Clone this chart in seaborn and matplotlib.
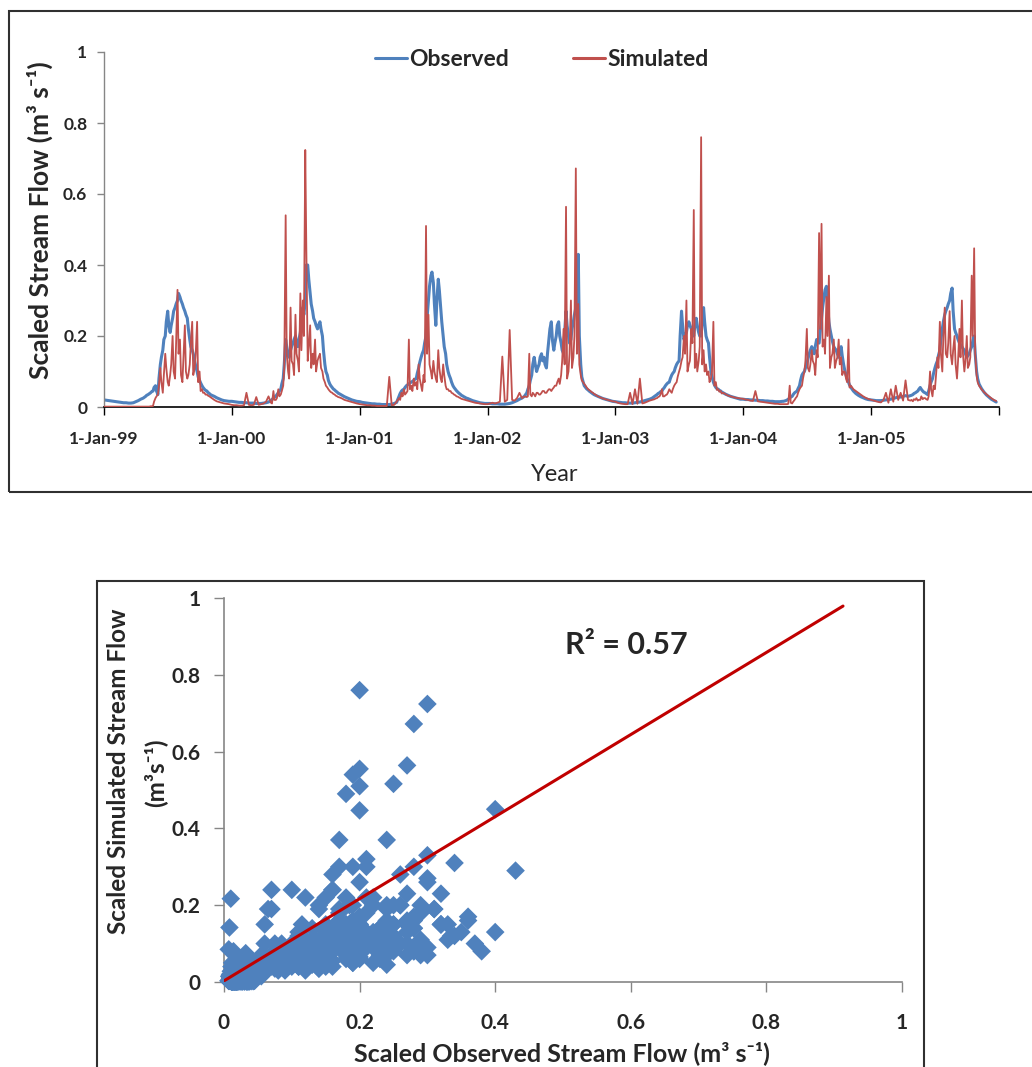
import numpy as np
import pandas as pd
import matplotlib
matplotlib.use("Agg")
import matplotlib.pyplot as plt
import seaborn as sns
from matplotlib.patches import Rectangle

sns.set_theme(style="white")
plt.rcParams['font.family'] = ['Lato', 'DejaVu Sans']

# ---------------- data ----------------
YEARS = [1999, 2000, 2001, 2002, 2003, 2004, 2005]

# weekly values (day 0, 7, 14, ... of each year)
obs_1999 = [0.020,0.019,0.018,0.017,0.016,0.015,0.014,0.013,0.012,0.012,
            0.011,0.011,0.012,0.015,0.018,0.022,0.025,0.030,0.035,0.040,
            0.045,0.060,0.035,0.120,0.160,0.200,0.270,0.210,0.250,0.280,
            0.300,0.310,0.290,0.270,0.250,0.190,0.160,0.130,0.100,0.075,
            0.060,0.050,0.045,0.038,0.033,0.030,0.026,0.023,0.020,0.018,
            0.017,0.016]
sim_1999 = [0.001,0.001,0.001,0.001,0.001,0.001,0.001,0.001,0.001,0.001,
            0.001,0.001,0.001,0.001,0.001,0.001,0.001,0.001,0.001,0.002,
            0.003,0.025,0.035,0.110,0.040,0.150,0.070,0.090,0.200,0.080,
            0.330,0.190,0.070,0.230,0.080,0.120,0.240,0.110,0.240,0.100,
            0.050,0.040,0.035,0.030,0.025,0.020,0.016,0.014,0.012,0.010,
            0.009,0.008]

obs_2000 = [0.016,0.015,0.014,0.013,0.013,0.012,0.012,0.011,0.011,0.011,
            0.010,0.010,0.010,0.011,0.012,0.014,0.018,0.025,0.030,0.040,
            0.050,0.080,0.190,0.150,0.160,0.180,0.200,0.170,0.210,0.280,
            0.300,0.400,0.320,0.270,0.240,0.220,0.240,0.200,0.120,0.090,
            0.065,0.055,0.048,0.042,0.037,0.033,0.029,0.026,0.023,0.020,
            0.018,0.016]
sim_2000 = [0.006,0.005,0.005,0.004,0.004,0.005,0.040,0.006,0.005,0.006,
            0.028,0.006,0.008,0.010,0.015,0.030,0.012,0.045,0.020,0.050,
            0.035,0.060,0.540,0.100,0.280,0.120,0.260,0.130,0.320,0.300,
            0.724,0.130,0.230,0.150,0.190,0.130,0.150,0.100,0.070,0.055,
            0.045,0.040,0.035,0.030,0.027,0.024,0.020,0.018,0.016,0.014,
            0.012,0.010]

obs_2001 = [0.015,0.013,0.012,0.011,0.010,0.009,0.009,0.008,0.008,0.007,
            0.007,0.007,0.007,0.008,0.010,0.013,0.030,0.045,0.050,0.060,
            0.065,0.070,0.075,0.080,0.110,0.140,0.160,0.200,0.300,0.370,
            0.350,0.230,0.360,0.280,0.200,0.150,0.100,0.080,0.060,0.050,
            0.042,0.036,0.031,0.027,0.024,0.021,0.018,0.016,0.014,0.012,
            0.011,0.010]
sim_2001 = [0.008,0.007,0.006,0.005,0.005,0.004,0.004,0.003,0.003,0.003,
            0.003,0.003,0.085,0.005,0.006,0.015,0.025,0.040,0.050,0.040,
            0.190,0.060,0.080,0.070,0.120,0.060,0.090,0.510,0.260,0.100,
            0.130,0.080,0.160,0.080,0.120,0.060,0.050,0.045,0.038,0.033,
            0.029,0.025,0.022,0.020,0.018,0.016,0.014,0.012,0.011,0.010,
            0.009,0.008]

obs_2002 = [0.010,0.010,0.009,0.009,0.009,0.008,0.008,0.008,0.009,0.010,
            0.012,0.015,0.018,0.022,0.025,0.030,0.040,0.060,0.090,0.140,
            0.100,0.120,0.150,0.140,0.110,0.190,0.240,0.160,0.200,0.240,
            0.180,0.150,0.270,0.200,0.190,0.240,0.280,0.430,0.120,0.070,
            0.055,0.048,0.042,0.037,0.033,0.030,0.027,0.024,0.022,0.020,
            0.018,0.016]
sim_2002 = [0.008,0.010,0.012,0.010,0.012,0.015,0.142,0.015,0.020,0.217,
            0.020,0.018,0.025,0.040,0.025,0.030,0.028,0.150,0.030,0.035,
            0.040,0.035,0.040,0.045,0.040,0.050,0.045,0.055,0.060,0.080,
            0.090,0.220,0.564,0.100,0.300,0.140,0.672,0.290,0.090,0.070,
            0.060,0.050,0.045,0.040,0.035,0.030,0.027,0.024,0.022,0.020,
            0.018,0.016]

obs_2003 = [0.015,0.014,0.013,0.012,0.012,0.011,0.011,0.011,0.012,0.013,
            0.014,0.016,0.018,0.020,0.022,0.025,0.030,0.035,0.040,0.045,
            0.055,0.065,0.070,0.090,0.100,0.120,0.130,0.270,0.190,0.210,
            0.240,0.220,0.200,0.250,0.210,0.200,0.280,0.200,0.180,0.100,
            0.070,0.055,0.050,0.045,0.040,0.036,0.033,0.030,0.028,0.026,
            0.024,0.022]
sim_2003 = [0.015,0.012,0.010,0.009,0.008,0.008,0.040,0.008,0.050,0.009,
            0.080,0.010,0.012,0.015,0.018,0.020,0.022,0.025,0.030,0.050,
            0.030,0.035,0.050,0.040,0.060,0.070,0.100,0.130,0.200,0.300,
            0.120,0.220,0.555,0.150,0.130,0.760,0.160,0.120,0.100,0.080,
            0.240,0.070,0.050,0.045,0.040,0.036,0.032,0.030,0.028,0.026,
            0.025,0.024]

obs_2004 = [0.022,0.021,0.021,0.020,0.020,0.019,0.019,0.018,0.018,0.017,
            0.017,0.016,0.016,0.015,0.015,0.015,0.016,0.017,0.020,0.025,
            0.030,0.040,0.045,0.060,0.090,0.100,0.120,0.150,0.170,0.150,
            0.190,0.180,0.250,0.310,0.340,0.240,0.200,0.170,0.160,0.140,
            0.170,0.120,0.090,0.070,0.055,0.045,0.038,0.033,0.029,0.026,
            0.023,0.021]
sim_2004 = [0.023,0.021,0.020,0.018,0.017,0.045,0.016,0.015,0.014,0.013,
            0.012,0.011,0.010,0.009,0.009,0.008,0.008,0.008,0.008,0.060,
            0.010,0.020,0.030,0.050,0.060,0.100,0.220,0.100,0.160,0.120,
            0.160,0.490,0.516,0.190,0.310,0.370,0.140,0.190,0.130,0.190,
            0.140,0.100,0.080,0.190,0.060,0.050,0.045,0.040,0.035,0.030,
            0.026,0.023]

obs_2005 = [0.020,0.019,0.018,0.018,0.018,0.019,0.020,0.021,0.022,0.024,
            0.026,0.028,0.028,0.030,0.032,0.030,0.032,0.035,0.040,0.045,
            0.055,0.045,0.040,0.035,0.060,0.080,0.110,0.130,0.160,0.220,
            0.260,0.280,0.300,0.335,0.220,0.200,0.180,0.170,0.160,0.140,
            0.150,0.170,0.200,0.100,0.065,0.052,0.042,0.034,0.028,0.022,
            0.018,0.014]
sim_2005 = [0.020,0.018,0.016,0.014,0.013,0.020,0.040,0.012,0.050,0.015,
            0.060,0.020,0.040,0.018,0.075,0.020,0.018,0.016,0.020,0.018,
            0.020,0.022,0.025,0.020,0.100,0.030,0.050,0.140,0.240,0.100,
            0.280,0.140,0.270,0.120,0.200,0.080,0.220,0.300,0.100,0.200,
            0.120,0.370,0.447,0.090,0.060,0.050,0.042,0.036,0.030,0.025,
            0.020,0.017]

# extra mid-week values during the high-flow season (weeks 16..43, +3 days)
MID_FIRST_WEEK = 16
MID_DAY_OFFSET = 3
obs_mid_1999 = [0.027,0.033,0.037,0.043,0.055,0.045,0.080,0.140,0.190,0.240,
                0.230,0.230,0.270,0.290,0.320,0.300,0.280,0.260,0.220,0.170,
                0.150,0.115,0.085,0.068,0.055,0.047,0.041,0.035]
sim_mid_1999 = [0.001,0.001,0.001,0.002,0.015,0.030,0.060,0.070,0.090,0.110,
                0.060,0.120,0.100,0.180,0.150,0.090,0.140,0.100,0.090,0.180,
                0.090,0.150,0.070,0.045,0.040,0.035,0.032,0.028]
obs_mid_2000 = [0.021,0.028,0.035,0.045,0.065,0.120,0.170,0.140,0.170,0.190,
                0.180,0.190,0.240,0.260,0.400,0.360,0.290,0.250,0.230,0.230,
                0.220,0.160,0.100,0.075,0.060,0.051,0.045,0.039]
sim_mid_2000 = [0.010,0.020,0.025,0.030,0.045,0.110,0.150,0.080,0.130,0.090,
                0.150,0.100,0.160,0.200,0.450,0.170,0.110,0.120,0.100,0.140,
                0.110,0.080,0.060,0.050,0.042,0.037,0.032,0.028]
obs_mid_2001 = [0.038,0.048,0.055,0.062,0.068,0.072,0.078,0.095,0.125,0.150,
                0.180,0.250,0.340,0.380,0.290,0.300,0.330,0.240,0.170,0.120,
                0.090,0.070,0.055,0.046,0.039,0.033,0.029,0.025]
sim_mid_2001 = [0.020,0.030,0.035,0.045,0.050,0.045,0.060,0.050,0.080,0.045,
                0.070,0.150,0.120,0.080,0.100,0.070,0.110,0.070,0.090,0.050,
                0.045,0.040,0.035,0.030,0.027,0.023,0.021,0.019]
obs_mid_2002 = [0.050,0.075,0.120,0.120,0.110,0.140,0.130,0.120,0.150,0.220,
                0.190,0.180,0.230,0.200,0.160,0.210,0.230,0.180,0.220,0.260,
                0.320,0.200,0.085,0.060,0.051,0.045,0.040,0.035]
sim_mid_2002 = [0.030,0.035,0.040,0.030,0.040,0.035,0.045,0.040,0.045,0.050,
                0.050,0.060,0.070,0.065,0.130,0.120,0.080,0.150,0.110,0.200,
                0.150,0.120,0.075,0.065,0.055,0.048,0.042,0.037]
obs_mid_2003 = [0.032,0.038,0.043,0.050,0.060,0.068,0.080,0.095,0.110,0.125,
                0.200,0.230,0.200,0.230,0.230,0.210,0.230,0.230,0.200,0.240,
                0.240,0.190,0.140,0.085,0.062,0.052,0.047,0.042]
sim_mid_2003 = [0.024,0.028,0.035,0.030,0.033,0.040,0.045,0.050,0.065,0.085,
                0.110,0.140,0.150,0.100,0.130,0.180,0.110,0.100,0.170,0.120,
                0.100,0.090,0.070,0.100,0.060,0.048,0.043,0.038]
obs_mid_2004 = [0.016,0.018,0.022,0.028,0.035,0.042,0.052,0.075,0.095,0.110,
                0.135,0.160,0.160,0.170,0.185,0.210,0.280,0.330,0.290,0.220,
                0.185,0.165,0.150,0.155,0.145,0.105,0.080,0.062]
sim_mid_2004 = [0.008,0.008,0.009,0.012,0.015,0.025,0.040,0.055,0.080,0.130,
                0.110,0.120,0.130,0.090,0.140,0.220,0.170,0.150,0.200,0.110,
                0.150,0.110,0.140,0.120,0.090,0.100,0.070,0.055]
obs_mid_2005 = [0.033,0.038,0.042,0.050,0.050,0.042,0.038,0.045,0.070,0.095,
                0.120,0.145,0.190,0.240,0.270,0.290,0.320,0.270,0.210,0.190,
                0.175,0.165,0.150,0.145,0.160,0.185,0.150,0.080]
sim_mid_2005 = [0.020,0.022,0.025,0.020,0.030,0.025,0.022,0.030,0.050,0.060,
                0.090,0.110,0.150,0.200,0.150,0.180,0.150,0.160,0.120,0.130,
                0.140,0.150,0.130,0.110,0.140,0.200,0.150,0.070]

OBS_BY_YEAR = [obs_1999, obs_2000, obs_2001, obs_2002, obs_2003, obs_2004, obs_2005]
SIM_BY_YEAR = [sim_1999, sim_2000, sim_2001, sim_2002, sim_2003, sim_2004, sim_2005]
OBS_MID_BY_YEAR = [obs_mid_1999, obs_mid_2000, obs_mid_2001, obs_mid_2002,
                   obs_mid_2003, obs_mid_2004, obs_mid_2005]
SIM_MID_BY_YEAR = [sim_mid_1999, sim_mid_2000, sim_mid_2001, sim_mid_2002,
                   sim_mid_2003, sim_mid_2004, sim_mid_2005]

XTICK_LABELS = ['1-Jan-99', '1-Jan-00', '1-Jan-01', '1-Jan-02',
                '1-Jan-03', '1-Jan-04', '1-Jan-05', '']
VAL_TICKS = [0, 0.2, 0.4, 0.6, 0.8, 1]
VAL_LABELS = ['0', '0.2', '0.4', '0.6', '0.8', '1']

# trend line (Excel linear trendline)
TREND_SLOPE = 1.069
TREND_INTERCEPT = 0.003
TREND_X_END = 0.913
R2_TEXT = 'R² = 0.57'

OBS_C = '#4F81BD'
SIM_C = '#C0504D'
PT_C = '#4F81BD'
TREND_C = '#C00000'
AXIS_C = '#868686'

# ---------------- build tables ----------------
dates, obs, sim = [], [], []
for y, o, s, om, sm in zip(YEARS, OBS_BY_YEAR, SIM_BY_YEAR,
                           OBS_MID_BY_YEAR, SIM_MID_BY_YEAR):
    d0 = pd.Timestamp(f'{y}-01-01')
    dates.extend(d0 + pd.to_timedelta(7 * np.arange(len(o)), unit='D'))
    obs.extend(o)
    sim.extend(s)
    wk = MID_FIRST_WEEK + np.arange(len(om))
    dates.extend(d0 + pd.to_timedelta(7 * wk + MID_DAY_OFFSET, unit='D'))
    obs.extend(om)
    sim.extend(sm)
ts = pd.DataFrame({'date': dates, 'Observed': obs, 'Simulated': sim})
ts = ts.sort_values('date').reset_index(drop=True)

W, H = 1032, 1067
fig = plt.figure(figsize=(W / 100, H / 100), dpi=100)
fig.patch.set_facecolor('white')

def fx(px):
    return px / W

def fy(py):
    return 1 - py / H

# frames
fig.add_artist(Rectangle((fx(9), fy(492)), fx(1040 - 9), (492 - 11) / H,
                         transform=fig.transFigure, fill=False,
                         ec='#303030', lw=1.5, clip_on=False))
fig.add_artist(Rectangle((fx(97), fy(1080)), fx(924 - 97), (1080 - 581) / H,
                         transform=fig.transFigure, fill=False,
                         ec='#303030', lw=1.5, clip_on=False))

# ---------------- top: time series ----------------
ax1 = fig.add_axes([fx(104), fy(407), fx(999 - 104), (407 - 52) / H])
sns.lineplot(data=ts, x='date', y='Observed', color=OBS_C, lw=2.2,
             label='Observed', ax=ax1, zorder=2)
sns.lineplot(data=ts, x='date', y='Simulated', color=SIM_C, lw=1.3,
             label='Simulated', ax=ax1, zorder=3)
ax1.set_xlim(pd.Timestamp('1999-01-01'), pd.Timestamp('2006-01-01'))
ax1.set_ylim(0, 1)
ax1.set_xticks([pd.Timestamp(f'{y}-01-01') for y in range(1999, 2007)])
ax1.set_xticklabels(XTICK_LABELS, fontsize=12.5, fontweight='bold')
ax1.set_yticks(VAL_TICKS)
ax1.set_yticklabels(VAL_LABELS, fontsize=12.5, fontweight='bold')
ax1.set_xlabel('')
ax1.set_ylabel('')
ax1.set_facecolor('none')
for side in ['top', 'right']:
    ax1.spines[side].set_visible(False)
ax1.spines['left'].set_color(AXIS_C)
ax1.spines['bottom'].set_color('#000000')
ax1.spines['left'].set_linewidth(1.0)
ax1.spines['bottom'].set_linewidth(1.2)
ax1.tick_params(axis='x', direction='out', length=6, width=1, color='#000000',
                pad=11, bottom=True)
ax1.tick_params(axis='y', direction='out', length=5, width=1, color=AXIS_C,
                pad=7, left=True)
leg = ax1.legend(loc='center', bbox_to_anchor=(0.489, 0.98), ncol=2,
                 frameon=False, handlelength=1.4, handletextpad=0.1,
                 columnspacing=2.8, prop={'weight': 'bold', 'size': 16.5})
for line in leg.get_lines():
    line.set_linewidth(2.2)

fig.text(fx(40), fy(220), 'Scaled Stream Flow (m³ s⁻¹)', rotation=90,
         ha='center', va='center', fontsize=19, fontweight='bold')
fig.text(fx(555), fy(474), 'Year', ha='center', va='center', fontsize=17)

# ---------------- bottom: scatter ----------------
ax2 = fig.add_axes([fx(224), fy(982), fx(902 - 224), (982 - 598) / H])
sns.scatterplot(data=ts, x='Observed', y='Simulated', marker='D', s=90,
                color=PT_C, edgecolor='none', linewidth=0, ax=ax2,
                clip_on=False, zorder=3)
trend = pd.DataFrame({'x': [0.0, TREND_X_END]})
trend['y'] = TREND_INTERCEPT + TREND_SLOPE * trend['x']
sns.lineplot(data=trend, x='x', y='y', color=TREND_C, lw=2.2, ax=ax2, zorder=4)
ax2.set_xlim(0, 1)
ax2.set_ylim(0, 1)
ax2.set_xticks(VAL_TICKS)
ax2.set_xticklabels(VAL_LABELS, fontsize=15, fontweight='bold')
ax2.set_yticks(VAL_TICKS)
ax2.set_yticklabels(VAL_LABELS, fontsize=15, fontweight='bold')
ax2.set_xlabel('')
ax2.set_ylabel('')
ax2.set_facecolor('none')
for side in ['top', 'right']:
    ax2.spines[side].set_visible(False)
for side in ['left', 'bottom']:
    ax2.spines[side].set_color(AXIS_C)
    ax2.spines[side].set_linewidth(1.2)
ax2.tick_params(axis='x', direction='out', length=7, width=1, color=AXIS_C,
                pad=15, bottom=True)
ax2.tick_params(axis='y', direction='out', length=7, width=1, color=AXIS_C,
                pad=10, left=True)
ax2.text(0.503, 0.878, R2_TEXT, transform=ax2.transData, ha='left',
         va='center', fontsize=22, fontweight='bold')

fig.text(fx(119), fy(771), 'Scaled Simulated Stream Flow', rotation=90,
         ha='center', va='center', fontsize=17.5, fontweight='bold')
fig.text(fx(155), fy(773), '(m³s⁻¹)', rotation=90,
         ha='center', va='center', fontsize=17.5, fontweight='bold')
fig.text(fx(562), fy(1053), 'Scaled Observed Stream Flow (m³ s⁻¹)',
         ha='center', va='center', fontsize=18, fontweight='bold')

fig.savefig('out.png', dpi=100, facecolor='white')
